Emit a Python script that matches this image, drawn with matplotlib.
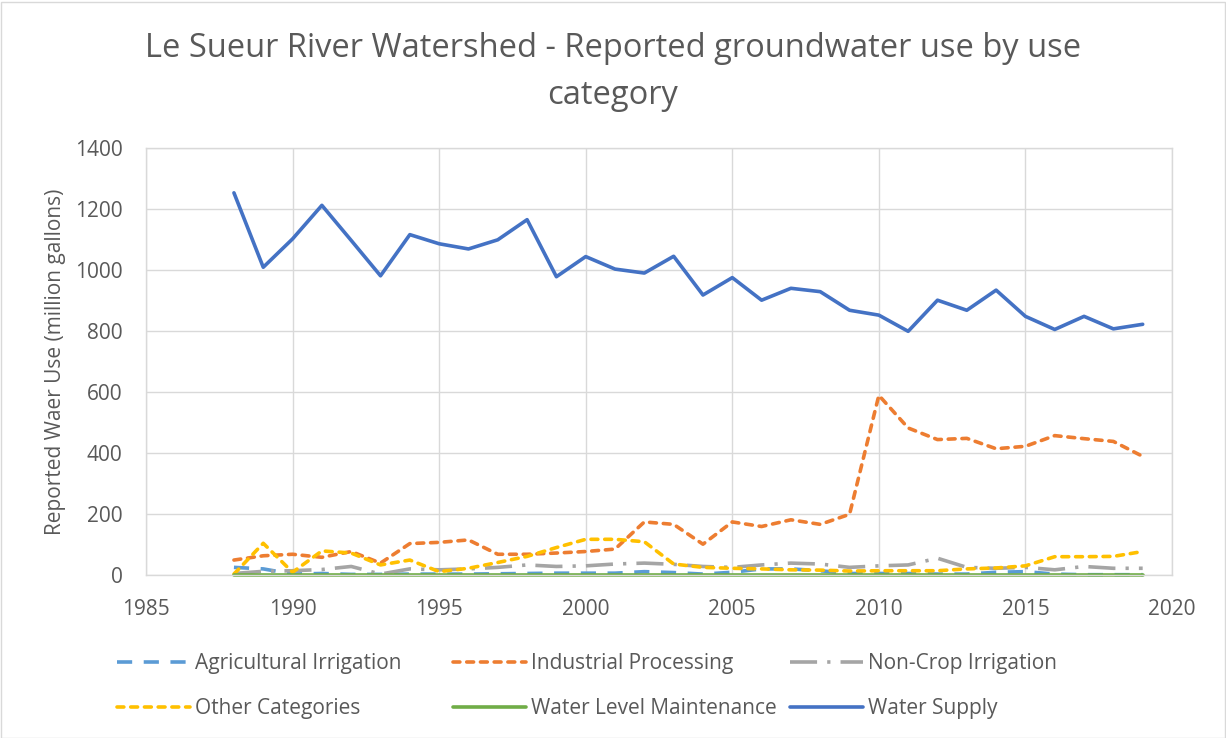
import matplotlib
matplotlib.use("Agg")
import matplotlib.pyplot as plt
from matplotlib.patches import Rectangle

plt.rcParams['font.family'] = ['Open Sans', 'DejaVu Sans']

years = list(range(1988, 2020))
agricultural = [25, 20, 3, 5, 2, 2, 3, 3, 3, 4, 5, 6, 6, 6, 11, 8,
                3, 9, 20, 20, 14, 5, 5, 5, 3, 3, 9, 11, 3, 1, 1, 1]
industrial = [49, 63, 68, 58, 77, 39, 103, 107, 115, 68, 68, 72, 77, 85, 174,
              166, 101, 174, 159, 181, 166, 199,
              589, 482, 444, 448, 414, 422, 457, 447, 438, 389]
non_crop = [5, 12, 14, 18, 28, 3, 20, 17, 20, 25, 33, 28, 30, 36, 39,
            35, 28, 25, 33, 39, 36, 25,
            30, 33, 55, 25, 22, 25, 17, 28, 22, 22]
other = [3, 104, 9, 79, 72, 33, 49, 11, 22, 41, 61, 90, 117, 117, 109,
         36, 25, 22, 20, 17, 16, 13,
         14, 14, 14, 20, 23, 30, 60, 60, 61, 77]
water_level = [1, 1, 1, 1, 1, 1, 1, 1, 1, 1, 1, 1, 1, 1, 1, 1,
               1, 1, 1, 1, 1, 1, 1, 1, 1, 1, 1, 1, 1, 1, 1, 1]
water_supply = [1253, 1009, 1102, 1212, 1097, 981, 1116, 1086, 1069, 1099, 1165,
                978, 1044, 1003, 990, 1045, 918, 975, 901, 940, 929, 868,
                852, 799, 901, 868, 934, 848, 805, 848, 807, 822]

labels = ["Agricultural Irrigation", "Industrial Processing", "Non-Crop Irrigation",
          "Other Categories", "Water Level Maintenance", "Water Supply"]
colors = ["#5B9BD5", "#ED7D31", "#A5A5A5", "#FFC000", "#70AD47", "#4472C4"]
x_ticks = [1985, 1990, 1995, 2000, 2005, 2010, 2015, 2020]
y_ticks = [0, 200, 400, 600, 800, 1000, 1200, 1400]

title = "Le Sueur River Watershed - Reported groundwater use by use\ncategory"
ylabel = "Reported Waer Use (million gallons)"

W, H = 1226, 738
fig = plt.figure(figsize=(W / 100, H / 100), dpi=100)
fig.patch.set_facecolor("white")
ax = fig.add_axes([146 / W, 1 - 575 / H, (1172 - 146) / W, (575 - 148) / H])

lw = 2.6
series = [agricultural, industrial, non_crop, other, water_level, water_supply]
styles = [
    dict(dashes=(4.2, 3.2), dash_capstyle="butt"),
    dict(dashes=(1.9, 1.9), dash_capstyle="round"),
    dict(dashes=(7.5, 2.8, 0.9, 2.8), dash_capstyle="butt"),
    dict(dashes=(1.9, 1.9), dash_capstyle="round"),
    dict(linestyle="-", solid_capstyle="round"),
    dict(linestyle="-", solid_capstyle="round"),
]
handles = []
for vals, lab, col, st in zip(series, labels, colors, styles):
    (ln,) = ax.plot(years, vals, color=col, lw=lw, label=lab, clip_on=False,
                    solid_joinstyle="round", **st)
    handles.append(ln)

ax.set_xlim(1985, 2020)
ax.set_ylim(0, 1400)
ax.set_xticks(x_ticks)
ax.set_yticks(y_ticks)
ax.grid(True, color="#D9D9D9", lw=1.0)
ax.set_axisbelow(True)
for s in ax.spines.values():
    s.set_color("#D9D9D9")
    s.set_linewidth(1.0)
ax.tick_params(length=0, colors="#595959", labelsize=15)
ax.tick_params(axis="x", pad=17)
ax.tick_params(axis="y", pad=17)
ax.set_ylabel(ylabel, fontsize=15, color="#595959", labelpad=6)

fig.text(0.5, 1 - 72 / H, title, ha="center", va="center", fontsize=23.5,
         color="#595959", linespacing=1.55)

# legend: three columns, two rows
cols = [(0, 3), (1, 4), (2, 5)]
col_x = [117, 453, 790]
for (i, j), xl in zip(cols, col_x):
    lg = fig.legend([handles[i], handles[j]], [labels[i], labels[j]],
                    loc="center left", bbox_to_anchor=(xl / W, 1 - 686 / H),
                    frameon=False, fontsize=15, handlelength=3.5,
                    handletextpad=0.25, labelspacing=1.15, borderpad=0,
                    borderaxespad=0)
    for t in lg.get_texts():
        t.set_color("#595959")

fig.add_artist(Rectangle((0.5 / W, 0.5 / H), 1 - 2 / W, 1 - 2 / H,
                         transform=fig.transFigure, fill=False,
                         edgecolor="#D9D9D9", lw=1.0))

fig.savefig("out.png", dpi=100)
